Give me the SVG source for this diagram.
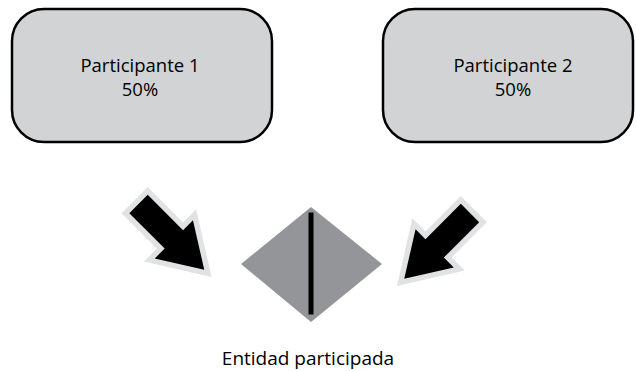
<svg xmlns="http://www.w3.org/2000/svg" width="636" height="371" viewBox="0 0 636 371">
  <style>
    .box { fill: #d1d3d4; stroke: #000; stroke-width: 2.5; }
    .lbl { font-family: "Open Sans", "Liberation Sans", sans-serif; font-size: 18.5px; fill: #000; text-anchor: middle; }
    .big { font-size: 19px; }
    .arrow { fill: #000; stroke: #e1e2e3; stroke-width: 11; stroke-linejoin: miter; stroke-miterlimit: 10; paint-order: stroke; }
  </style>
  <defs>
    <polygon id="arrowShape" points="0,-13 50,-13 50,-27 93,0 50,27 50,13 0,13"/>
  </defs>
  <g id="participante1">
    <rect class="box" x="12" y="9" width="260" height="133" rx="32" ry="32"/>
    <text class="lbl" x="140" y="72">Participante 1</text>
    <text class="lbl" x="140" y="96">50%</text>
  </g>
  <g id="participante2">
    <rect class="box" x="383" y="9" width="250" height="133" rx="32" ry="32"/>
    <text class="lbl" x="513" y="72">Participante 2</text>
    <text class="lbl" x="513" y="96">50%</text>
  </g>
  <g id="entidad">
    <polygon points="311,207 382,264 311,322 241,264" fill="#939598"/>
    <rect x="308.5" y="212.5" width="5" height="102" fill="#000"/>
    <text class="lbl big" x="308" y="365">Entidad participada</text>
  </g>
  <g id="connectors">
    <use href="#arrowShape" class="arrow" transform="translate(138.5,204) rotate(45)"/>
    <use href="#arrowShape" class="arrow" transform="translate(470,213) rotate(135)"/>
  </g>
</svg>
